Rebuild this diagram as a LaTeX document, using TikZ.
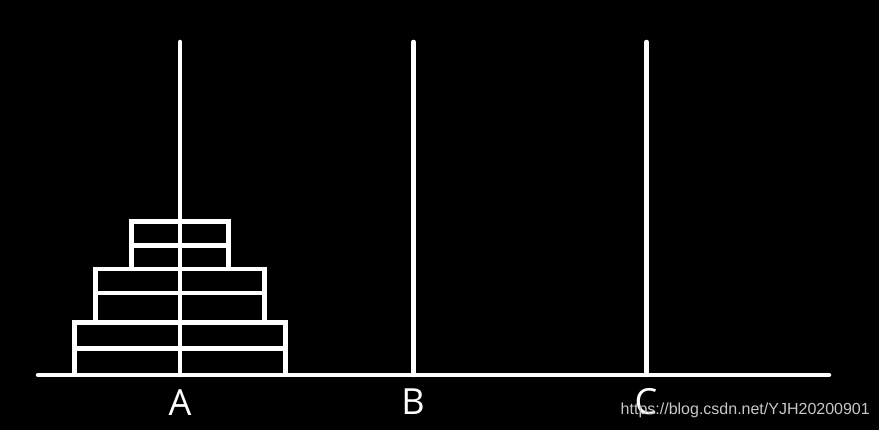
\documentclass[tikz,border=0pt]{standalone}
\usepackage{fontspec}
\newfontfamily\labelfont{Open Sans}
\newfontfamily\markfont{Liberation Sans}
\begin{document}
\begin{tikzpicture}[x=1pt,y=-1pt,
  wline/.style={draw=white,line width=4.5pt},
  pole/.style={wline,line cap=round},
  disk/.style={wline,line join=miter},
  plabel/.style={text=white,font=\labelfont\fontsize{36}{36}\selectfont,anchor=base,inner sep=0pt},
  wmark/.style={text=black!22!white,font=\markfont\fontsize{16}{16}\selectfont,anchor=base east,inner sep=0pt}]
\fill[black] (0,0) rectangle (879,430);
\useasboundingbox (0,0) rectangle (879,430);
% disks on A
\draw[disk] (131.5,221.5) rectangle (228.5,269) (131.5,245.5) -- (228.5,245.5);
\draw[disk] (95.5,269) rectangle (264.5,322.3) (95.5,293) -- (264.5,293);
\draw[disk] (74.5,322.3) rectangle (285.5,375) (74.5,348.3) -- (285.5,348.3);
% base
\coordinate (bl) at (38,375);
\coordinate (br) at (829,375);
\draw[pole] (bl) -- (br);
% poles
\coordinate (atop) at (180.2,42); \coordinate (abot) at (180.2,375);
\coordinate (btop) at (413.5,42); \coordinate (bbot) at (413.5,375);
\coordinate (ctop) at (646.5,42); \coordinate (cbot) at (646.5,375);
\draw[pole] (atop) -- (abot);
\draw[pole] (btop) -- (bbot);
\draw[pole] (ctop) -- (cbot);
% labels
\node[plabel] (la) at (180,415.5) {A};
\node[plabel] (lb) at (413,415) {B};
\node[plabel] (lc) at (646,415) {C};
\node[wmark] (wm) at (870,415) {https://blog.csdn.net/YJH20200901};
\end{tikzpicture}
\end{document}
